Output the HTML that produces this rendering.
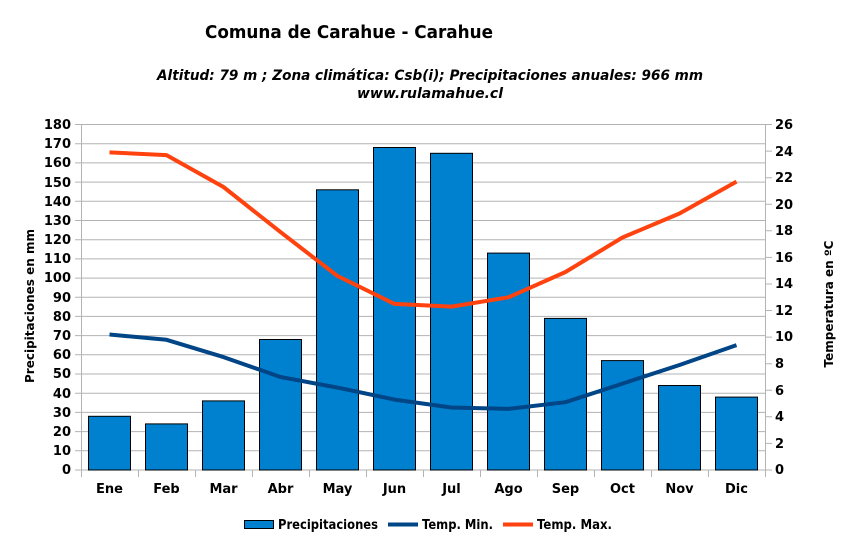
<!DOCTYPE html>
<html><head><meta charset="utf-8"><style>
html,body{margin:0;padding:0;background:#fff;}
svg{display:block;font-family:"DejaVu Sans","Liberation Sans",sans-serif;font-weight:bold;}
</style></head><body>
<svg width="857" height="537" viewBox="0 0 857 537" xmlns="http://www.w3.org/2000/svg">
<rect width="857" height="537" fill="#fff"/>
<text x="349" y="38" font-size="18" text-anchor="middle" textLength="288" lengthAdjust="spacingAndGlyphs">Comuna de Carahue - Carahue</text>
<text x="430" y="80" font-size="14" font-style="italic" text-anchor="middle" textLength="546" lengthAdjust="spacingAndGlyphs">Altitud: 79 m ;  Zona climática: Csb(i);  Precipitaciones anuales: 966 mm</text>
<text x="430" y="98" font-size="14" font-style="italic" text-anchor="middle" textLength="146" lengthAdjust="spacingAndGlyphs">www.rulamahue.cl</text>
<g stroke="#b3b3b3" stroke-width="1">
<path d="M75 124.5H765M75 143.7H765M75 162.9H765M75 182.1H765M75 201.3H765M75 220.5H765M75 239.7H765M75 258.9H765M75 278.1H765M75 297.3H765M75 316.4H765M75 335.6H765M75 354.8H765M75 374H765M75 393.2H765M75 412.4H765M75 431.6H765M75 450.8H765M75 470H765"/>
<path d="M81.5 124.5V470M765.5 124.5V477"/>
<path d="M765 124.5H772M765 151.1H772M765 177.7H772M765 204.2H772M765 230.8H772M765 257.4H772M765 284H772M765 310.5H772M765 337.1H772M765 363.7H772M765 390.3H772M765 416.8H772M765 443.4H772M765 470H772"/>
<path d="M81.5 470V477M138.5 470V477M195.5 470V477M252.5 470V477M309.5 470V477M366.5 470V477M423.5 470V477M480.5 470V477M537.5 470V477M594.5 470V477M651.5 470V477M708.5 470V477"/>
</g>
<g fill="#0081cf" stroke="#000" stroke-width="1">
<rect x="88.5" y="416.3" width="42" height="53.7"/>
<rect x="145.5" y="423.9" width="42" height="46.1"/>
<rect x="202.5" y="400.9" width="42" height="69.1"/>
<rect x="259.5" y="339.5" width="42" height="130.5"/>
<rect x="316.5" y="189.8" width="42" height="280.2"/>
<rect x="373.5" y="147.5" width="42" height="322.5"/>
<rect x="430.5" y="153.3" width="42" height="316.7"/>
<rect x="487.5" y="253.1" width="42" height="216.9"/>
<rect x="544.5" y="318.4" width="42" height="151.6"/>
<rect x="601.5" y="360.6" width="42" height="109.4"/>
<rect x="658.5" y="385.5" width="42" height="84.5"/>
<rect x="715.5" y="397.1" width="42" height="72.9"/>
</g>
<polyline fill="none" stroke="#004586" stroke-width="4" stroke-linejoin="round" points="109.5,334.5 166.5,339.8 223.5,357.1 280.5,377 337.5,387.6 394.5,399.6 451.5,407.5 508.5,408.9 565.5,402.2 622.5,383.6 679.5,365 736.5,345.1"/>
<polyline fill="none" stroke="#ff420e" stroke-width="4" stroke-linejoin="round" points="109.5,152.4 166.5,155.1 223.5,187 280.5,232.1 337.5,276 394.5,303.9 451.5,306.6 508.5,297.3 565.5,272 622.5,237.5 679.5,213.5 736.5,181.6"/>
<g font-size="13" text-anchor="end">
<text x="71" y="129">180</text><text x="71" y="148">170</text><text x="71" y="167">160</text><text x="71" y="187">150</text><text x="71" y="206">140</text><text x="71" y="225">130</text><text x="71" y="244">120</text><text x="71" y="263">110</text><text x="71" y="282">100</text><text x="71" y="302">90</text><text x="71" y="321">80</text><text x="71" y="340">70</text><text x="71" y="359">60</text><text x="71" y="378">50</text><text x="71" y="398">40</text><text x="71" y="417">30</text><text x="71" y="436">20</text><text x="71" y="455">10</text><text x="71" y="474">0</text>
</g>
<g font-size="13" text-anchor="start">
<text x="775" y="129">26</text><text x="775" y="156">24</text><text x="775" y="182">22</text><text x="775" y="209">20</text><text x="775" y="235">18</text><text x="775" y="262">16</text><text x="775" y="288">14</text><text x="775" y="315">12</text><text x="775" y="341">10</text><text x="775" y="368">8</text><text x="775" y="395">6</text><text x="775" y="421">4</text><text x="775" y="448">2</text><text x="775" y="474">0</text>
</g>
<g font-size="13" text-anchor="middle">
<text x="109.5" y="493">Ene</text><text x="166.5" y="493">Feb</text><text x="223.5" y="493">Mar</text><text x="280.5" y="493">Abr</text><text x="337.5" y="493">May</text><text x="394.5" y="493">Jun</text><text x="451.5" y="493">Jul</text><text x="508.5" y="493">Ago</text><text x="565.5" y="493">Sep</text><text x="622.5" y="493">Oct</text><text x="679.5" y="493">Nov</text><text x="736.5" y="493">Dic</text>
</g>
<text font-size="12" text-anchor="middle" transform="translate(34,306) rotate(-90)">Precipitaciones en mm</text>
<text font-size="12" text-anchor="middle" transform="translate(833,304) rotate(-90)">Temperatura en ºC</text>
<rect x="244.5" y="520.5" width="29" height="8" fill="#0081cf" stroke="#000" stroke-width="1"/>
<text x="278" y="529" font-size="13" textLength="100" lengthAdjust="spacingAndGlyphs">Precipitaciones</text>
<line x1="388" y1="524.5" x2="418" y2="524.5" stroke="#004586" stroke-width="4"/>
<text x="422" y="529" font-size="13" textLength="71" lengthAdjust="spacingAndGlyphs">Temp. Min.</text>
<line x1="503" y1="524.5" x2="533" y2="524.5" stroke="#ff420e" stroke-width="4"/>
<text x="537" y="529" font-size="13" textLength="75" lengthAdjust="spacingAndGlyphs">Temp. Max.</text>
</svg>
</body></html>
